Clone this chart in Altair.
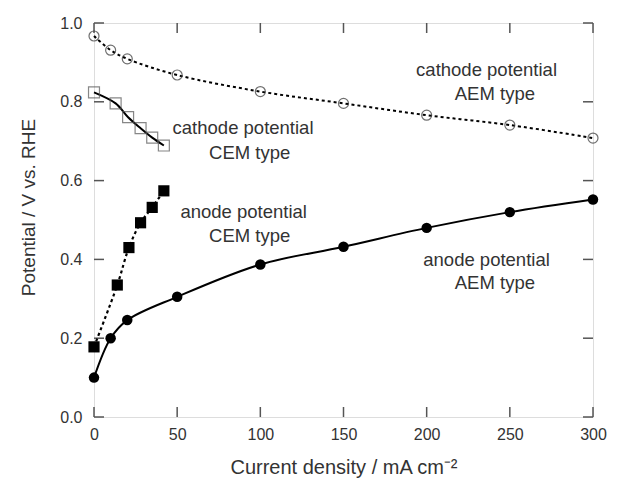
import altair as alt
import pandas as pd

# ---- data ----
cath_aem_x = [0, 10, 20, 50, 100, 150, 200, 250, 300]
cath_aem_y = [0.967, 0.931, 0.909, 0.868, 0.826, 0.796, 0.766, 0.741, 0.708]

cath_cem_x = [0, 13, 20.5, 28, 35, 42]
cath_cem_y = [0.824, 0.796, 0.761, 0.733, 0.709, 0.689]

an_cem_x = [0, 14, 21, 28, 35, 42]
an_cem_y = [0.178, 0.335, 0.430, 0.493, 0.532, 0.574]

an_aem_x = [0, 10, 20, 50, 100, 150, 200, 250, 300]
an_aem_y = [0.100, 0.200, 0.246, 0.305, 0.387, 0.432, 0.480, 0.520, 0.552]

x_ticks = [0, 50, 100, 150, 200, 250, 300]
y_ticks = [0.0, 0.2, 0.4, 0.6, 0.8, 1.0]

ann_labels = ["cathode potential", "AEM type",
              "cathode potential", "CEM type",
              "anode potential", "CEM type",
              "anode potential", "AEM type"]
ann_x = [236, 241, 89.6, 93.6, 90, 93.6, 236, 241]
ann_y = [0.881, 0.820, 0.733, 0.671, 0.521, 0.459, 0.398, 0.340]

W, H = 499, 394
FRAME = "#555"
FONT = "Liberation Sans"

xs = alt.Scale(domain=[0, 300], nice=False)
ys = alt.Scale(domain=[0, 1], nice=False)

def df(xv, yv):
    return pd.DataFrame({"x": xv, "y": yv})

X = alt.X("x:Q", scale=xs,
          axis=alt.Axis(values=x_ticks, ticks=False, domain=False, grid=False,
                        labelFontSize=16, labelPadding=9, labelColor="#333",
                        labelFont=FONT, title="Current density / mA cm\u207b\u00b2",
                        titleFontSize=20, titleFont=FONT, titleFontWeight="normal",
                        titleColor="#333", titleBaseline="alphabetic",
                        titleX=W / 2, titleY=56, labelFlush=False))
Y = alt.Y("y:Q", scale=ys,
          axis=alt.Axis(values=y_ticks, ticks=False, domain=False, grid=False,
                        format=".1f", labelFontSize=16, labelPadding=12,
                        labelColor="#333", labelFont=FONT,
                        title="Potential / V vs. RHE", titleFontSize=19,
                        titleFont=FONT, titleFontWeight="normal",
                        titleColor="#333", titleBaseline="alphabetic",
                        titleAngle=270, titleX=-60, titleY=184, labelFlush=False))

layers = []

# ticks (inward, all four sides)
xt = pd.DataFrame({"x": x_ticks})
yt = pd.DataFrame({"y": y_ticks})
tick_style = dict(color=FRAME, strokeWidth=1.5)
layers.append(alt.Chart(xt).mark_rule(**tick_style).encode(
    x=X, y=alt.value(0), y2=alt.value(10)))
layers.append(alt.Chart(xt).mark_rule(**tick_style).encode(
    x=alt.X("x:Q", scale=xs), y=alt.value(H), y2=alt.value(H - 10)))
layers.append(alt.Chart(yt).mark_rule(**tick_style).encode(
    y=Y, x=alt.value(0), x2=alt.value(10)))
layers.append(alt.Chart(yt).mark_rule(**tick_style).encode(
    y=alt.Y("y:Q", scale=ys), x=alt.value(W), x2=alt.value(W - 10)))

Xp = alt.X("x:Q", scale=xs)
Yp = alt.Y("y:Q", scale=ys)

# lines
layers.append(alt.Chart(df(cath_aem_x, cath_aem_y)).mark_line(
    color="black", strokeWidth=2, strokeDash=[3, 3], interpolate="catmull-rom").encode(x=Xp, y=Yp))
layers.append(alt.Chart(df(cath_cem_x, cath_cem_y)).mark_line(
    color="black", strokeWidth=2, interpolate="catmull-rom").encode(x=Xp, y=Yp))
layers.append(alt.Chart(df(an_cem_x, an_cem_y)).mark_line(
    color="black", strokeWidth=2.2, strokeDash=[3, 3], interpolate="catmull-rom").encode(x=Xp, y=Yp))
layers.append(alt.Chart(df(an_aem_x, an_aem_y)).mark_line(
    color="black", strokeWidth=2, interpolate="catmull-rom").encode(x=Xp, y=Yp))

# points
layers.append(alt.Chart(df(cath_aem_x, cath_aem_y)).mark_point(
    shape="circle", filled=False, size=100, color="#333", strokeWidth=1.2).encode(x=Xp, y=Yp))
layers.append(alt.Chart(df(cath_cem_x, cath_cem_y)).mark_point(
    shape="square", filled=False, size=120, color="#555", strokeWidth=1.2).encode(x=Xp, y=Yp))
layers.append(alt.Chart(df(an_cem_x, an_cem_y)).mark_point(
    shape="square", filled=True, size=125, color="black", opacity=1).encode(x=Xp, y=Yp))
layers.append(alt.Chart(df(an_aem_x, an_aem_y)).mark_point(
    shape="circle", filled=True, size=110, color="black", opacity=1).encode(x=Xp, y=Yp))

# annotations
ann = pd.DataFrame({"x": ann_x, "y": ann_y, "t": ann_labels})
layers.append(alt.Chart(ann).mark_text(
    fontSize=18.5, font=FONT, color="#333", align="center", baseline="middle").encode(
    x=Xp, y=Yp, text="t:N"))

chart = alt.layer(*layers).properties(
    width=W, height=H,
    autosize=alt.AutoSizeParams(type="none"),
    padding={"left": 86, "top": 15, "right": 18, "bottom": 61},
).configure_view(stroke=FRAME, strokeWidth=1.5).configure(background="white")

chart.save("out.html", embed_options={"renderer": "svg", "actions": False})
